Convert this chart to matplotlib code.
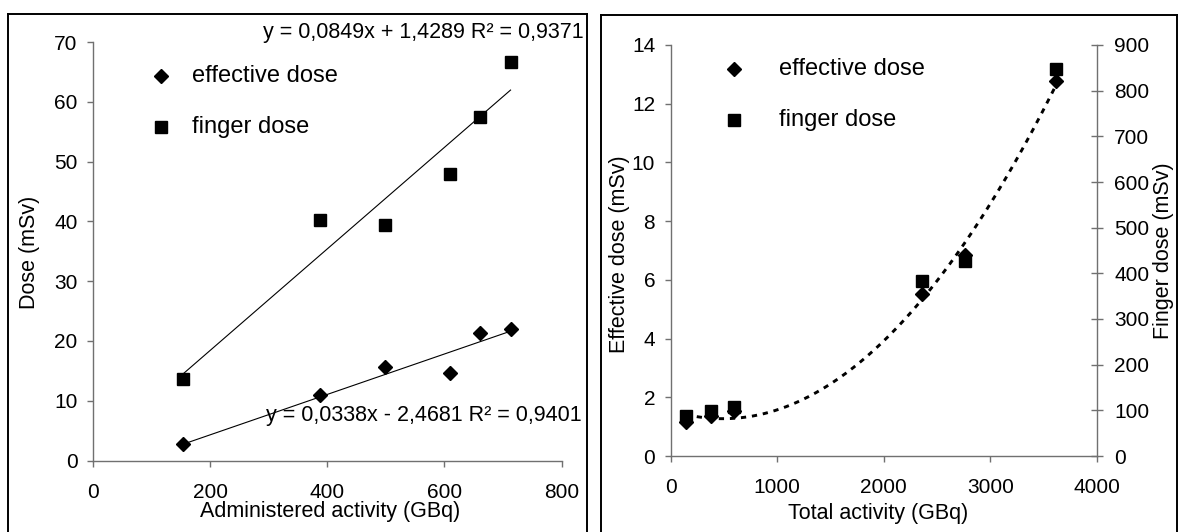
import numpy as np
import matplotlib
matplotlib.use("Agg")
import matplotlib.pyplot as plt
from matplotlib.lines import Line2D

# ---------------- data ----------------
admin_activity = [154, 387, 499, 609, 661, 713]          # GBq
admin_effective = [2.7, 11.0, 15.6, 14.7, 21.3, 22.0]    # mSv
admin_finger = [13.7, 40.3, 39.4, 48.0, 57.4, 66.6]      # mSv
fit_finger = [0.0849, 1.4289]
fit_effective = [0.0338, -2.4681]
eq_finger = "y = 0,0849x + 1,4289 R\u00b2 = 0,9371"
eq_effective = "y = 0,0338x - 2,4681 R\u00b2 = 0,9401"

total_activity = [144, 381, 592, 2358, 2759, 3612]       # GBq
total_effective = [1.16, 1.35, 1.54, 5.51, 6.85, 12.76]  # mSv
total_finger = [87, 98, 108, 384, 428, 848]              # mSv

labels = ["effective dose", "finger dose"]

# ---------------- style ----------------
plt.rcParams['font.family'] = ['Liberation Sans', 'DejaVu Sans']
FS_TICK = 15
FS_LAB = 15.5
FS_EQ = 15.5
FS_LEG = 17
W, H = 1178, 532
fig = plt.figure(figsize=(W / 100, H / 100), dpi=100)

def fx(px):
    return px / W

def fy(py):
    return 1 - py / H

SPINE = '#707070'
DMS = 7.2   # diamond size
SMS = 8.8   # square size

def style_axes(ax):
    for s in ['top', 'right']:
        ax.spines[s].set_visible(False)
    for s in ['left', 'bottom']:
        ax.spines[s].set_color(SPINE)
        ax.spines[s].set_linewidth(1.0)
    ax.tick_params(axis='both', direction='out', length=4, width=1.0,
                   color=SPINE, labelsize=FS_TICK, pad=7)
    ax.tick_params(axis='x', pad=12)

# ---------------- left panel ----------------
L = dict(x0=93, x1=561.5, y0=460.5, y1=42)
ax1 = fig.add_axes([fx(L['x0']), fy(L['y0']), fx(L['x1'] - L['x0']), (L['y0'] - L['y1']) / H])
style_axes(ax1)
ax1.set_xlim(0, 800)
ax1.set_ylim(0, 70)
ax1.set_xticks([0, 200, 400, 600, 800])
ax1.set_yticks(range(0, 71, 10))

xs = np.array([min(admin_activity), max(admin_activity)])
ax1.plot(xs, np.polyval(fit_finger, xs), color='black', lw=0.8)
ax1.plot(xs, np.polyval(fit_effective, xs), color='black', lw=0.8)
ax1.plot(admin_activity, admin_effective, linestyle='none', marker='D', ms=DMS,
         color='black', clip_on=False)
ax1.plot(admin_activity, admin_finger, linestyle='none', marker='s', ms=SMS,
         color='black', clip_on=False)

# legend (manual)
ax1.plot([0.1445], [0.919], marker='D', ms=DMS, color='black', transform=ax1.transAxes, clip_on=False)
ax1.plot([0.1445], [0.797], marker='s', ms=SMS, color='black', transform=ax1.transAxes, clip_on=False)
ax1.text(0.2105, 0.919, labels[0], transform=ax1.transAxes, fontsize=FS_LEG, va='center', ha='left')
ax1.text(0.2105, 0.797, labels[1], transform=ax1.transAxes, fontsize=FS_LEG, va='center', ha='left')

fig.text(fx(584), fy(37.7), eq_finger, fontsize=FS_EQ, ha='right', va='baseline')
fig.text(fx(582), fy(421), eq_effective, fontsize=FS_EQ, ha='right', va='baseline')

fig.text(fx(330), fy(511), "Administered activity (GBq)", fontsize=FS_LAB, ha='center', va='center')
fig.text(fx(29), fy(252), "Dose (mSv)", fontsize=FS_LAB, ha='center', va='center', rotation=90)

# ---------------- right panel ----------------
R = dict(x0=670.5, x1=1097, y0=456, y1=45)
ax2 = fig.add_axes([fx(R['x0']), fy(R['y0']), fx(R['x1'] - R['x0']), (R['y0'] - R['y1']) / H])
style_axes(ax2)
ax2.set_xlim(0, 4000)
ax2.set_ylim(0, 14)
ax2.set_xticks([0, 1000, 2000, 3000, 4000])
ax2.set_yticks(range(0, 15, 2))

ax3 = ax2.twinx()
ax3.set_ylim(0, 900)
ax3.set_yticks(range(0, 901, 100))
for s in ['top', 'left', 'bottom']:
    ax3.spines[s].set_visible(False)
ax3.spines['right'].set_color(SPINE)
ax3.spines['right'].set_linewidth(1.0)
ax3.tick_params(axis='y', direction='inout', length=9, width=1.0, color=SPINE,
                labelsize=FS_TICK, pad=8)

coef = np.polyfit(total_activity, total_effective, 2)
xc = np.linspace(min(total_activity), max(total_activity), 200)
ax2.plot(xc, np.polyval(coef, xc), color='black', lw=2.1, dashes=(1.8, 2.0))
ax2.plot(total_activity, total_effective, linestyle='none', marker='D', ms=DMS,
         color='black', clip_on=False)
ax3.plot(total_activity, total_finger, linestyle='none', marker='s', ms=SMS,
         color='black', clip_on=False)

ax2.plot([0.148], [0.9406], marker='D', ms=DMS, color='black', transform=ax2.transAxes, clip_on=False)
ax2.plot([0.148], [0.8175], marker='s', ms=SMS, color='black', transform=ax2.transAxes, clip_on=False)
ax2.text(0.2537, 0.9406, labels[0], transform=ax2.transAxes, fontsize=FS_LEG, va='center', ha='left')
ax2.text(0.2537, 0.8175, labels[1], transform=ax2.transAxes, fontsize=FS_LEG, va='center', ha='left')

fig.text(fx(878), fy(514), "Total activity (GBq)", fontsize=FS_LAB, ha='center', va='center')
fig.text(fx(619), fy(254), "Effective dose (mSv)", fontsize=FS_LAB, ha='center', va='center', rotation=90)
fig.text(fx(1164), fy(251), "Finger dose (mSv)", fontsize=FS_LAB, ha='center', va='center', rotation=90)

# ---------------- panel borders ----------------
def border(x0, x1, ytop):
    kw = dict(transform=fig.transFigure, color='black', lw=1.4, solid_capstyle='projecting')
    fig.add_artist(Line2D([fx(x0), fx(x0)], [0, fy(ytop)], **kw))
    fig.add_artist(Line2D([fx(x1), fx(x1)], [0, fy(ytop)], **kw))
    fig.add_artist(Line2D([fx(x0), fx(x1)], [fy(ytop), fy(ytop)], **kw))

border(7.5, 587, 14)
border(601, 1176.5, 15)

fig.savefig("out.png", dpi=100)
